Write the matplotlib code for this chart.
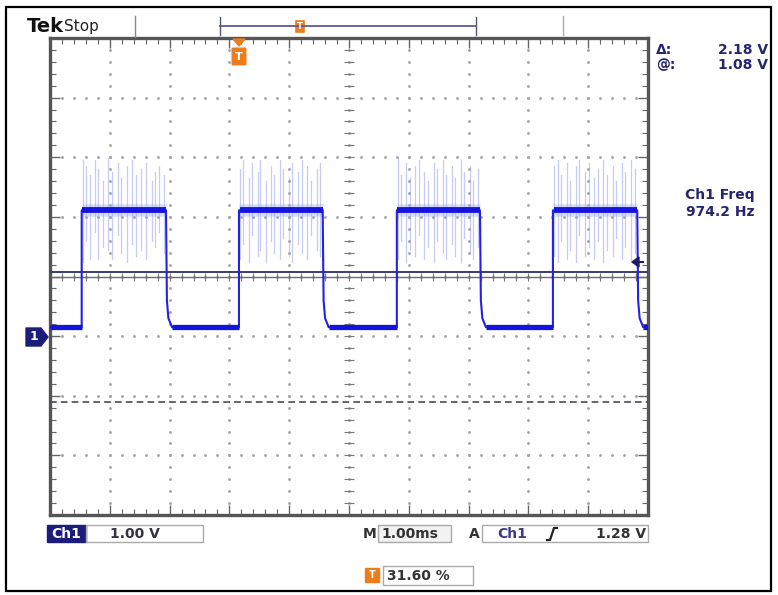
import numpy as np
import matplotlib
matplotlib.use("Agg")
import matplotlib.pyplot as plt
from matplotlib.patches import Rectangle, Polygon, FancyBboxPatch
from matplotlib.ticker import FixedLocator

# ---------------- data ----------------
t_left, t_right = -3.16, 6.84          # ms, screen span (trigger at 0 ms)
v_bottom, v_top = -3.0, 5.0            # V, 1.00 V/div, ground 3 div above bottom
rise_times = [-2.63, 0.00, 2.64, 5.25]
fall_times = [-1.22, 1.40, 4.03, 6.66]
v_high = 2.11
v_low = 0.15
fall_tail_dt = [0.0, 0.015, 0.04, 0.10]
fall_tail_v = [2.11, 0.60, 0.30, 0.15]
cursor_a = 1.08
cursor_b = -1.10
trigger_level = 1.28

spike_t = [-2.61, -2.56, -2.49, -2.41, -2.35, -2.27, -2.19, -2.12, -2.03, -1.97,
           -1.88, -1.79, -1.72, -1.63, -1.56, -1.46, -1.41, -1.33, -1.26,
           0.02, 0.07, 0.16, 0.21, 0.31, 0.36, 0.45, 0.53, 0.58, 0.68, 0.74,
           0.84, 0.89, 0.99, 1.05, 1.14, 1.20, 1.30, 1.36,
           2.66, 2.71, 2.80, 2.86, 2.95, 3.01, 3.10, 3.16, 3.26, 3.31, 3.41,
           3.46, 3.56, 3.62, 3.71, 3.77, 3.86, 3.92, 3.99,
           5.27, 5.34, 5.39, 5.49, 5.54, 5.64, 5.69, 5.79, 5.85, 5.94, 6.00,
           6.09, 6.15, 6.25, 6.30, 6.40, 6.45, 6.55, 6.62]
spike_top = [2.95, 2.85, 2.70, 2.95, 2.80, 2.60, 2.98, 2.75, 2.90, 2.65,
             2.85, 2.95, 2.70, 2.80, 2.90, 2.60, 2.75, 2.85, 2.70,
             2.80, 2.95, 2.65, 2.90, 2.75, 2.95, 2.60, 2.85, 2.70, 2.95, 2.80,
             2.65, 2.90, 2.75, 2.95, 2.85, 2.60, 2.80, 2.90,
             2.98, 2.70, 2.90, 2.65, 2.85, 2.95, 2.75, 2.60, 2.90, 2.80, 2.95,
             2.70, 2.85, 2.65, 2.95, 2.75, 2.85, 2.60, 2.80,
             2.85, 2.95, 2.70, 2.90, 2.60, 2.85, 2.95, 2.75, 2.90, 2.65, 2.80,
             2.95, 2.70, 2.85, 2.60, 2.90, 2.75, 2.95, 2.80]
spike_bot = [1.25, 1.60, 1.30, 1.75, 1.30, 1.50, 1.45, 1.30, 1.70, 1.40,
             1.25, 1.55, 1.35, 1.45, 1.30, 1.60, 1.50, 1.75, 1.40,
             1.30, 1.55, 1.25, 1.70, 1.35, 1.45, 1.25, 1.60, 1.40, 1.30, 1.65,
             1.35, 1.25, 1.55, 1.40, 1.30, 1.70, 1.45, 1.35,
             1.30, 1.60, 1.25, 1.45, 1.35, 1.70, 1.30, 1.50, 1.25, 1.60, 1.40,
             1.30, 1.55, 1.35, 1.25, 1.65, 1.40, 1.30, 1.50,
             1.35, 1.25, 1.60, 1.30, 1.45, 1.25, 1.70, 1.35, 1.50, 1.30, 1.60,
             1.25, 1.45, 1.35, 1.65, 1.30, 1.50, 1.25, 1.40]

# ---------------- build trace vertices from edge readings ----------------
tr_t, tr_v = [t_left], [v_low]
for r, f in zip(rise_times, fall_times):
    tr_t += [r, r, f]
    tr_v += [v_low, v_high, v_high]
    for dt, vv in zip(fall_tail_dt[1:], fall_tail_v[1:]):
        tr_t.append(f + dt)
        tr_v.append(vv)
tr_t.append(t_right + 0.2)
tr_v.append(v_low)

W, H = 778, 595
fig = plt.figure(figsize=(W / 100, H / 100), dpi=100)
fig.patch.set_facecolor("white")

ax = fig.add_axes([50 / W, 1 - 515 / H, 598 / W, 477 / H])
ax.set_xlim(t_left, t_right)
ax.set_ylim(v_bottom, v_top)
ax.set_facecolor("white")

grid_col = "#a8a8a8"
major_x = [t_left + k for k in range(11)]
major_y = list(range(-3, 6))
minor_x = [t_left + k * 0.2 for k in range(51)]
minor_y = [v_bottom + k * 0.2 for k in range(41)]

# dotted graticule
for x in major_x[1:-1]:
    ax.plot([x] * len(minor_y), minor_y, ls="none", marker="o", ms=1.1,
            color=grid_col, zorder=1)
for y in major_y[1:-1]:
    ax.plot(minor_x, [y] * len(minor_x), ls="none", marker="o", ms=1.1,
            color=grid_col, zorder=1)
# centre lines with ticks
xc = t_left + 5
yc = 1.0
ax.axhline(yc, color="#6a6a7a", lw=1.0, zorder=2)
ax.plot(minor_x, [yc] * len(minor_x), ls="none", marker="|", ms=6,
        mew=0.8, color="#777777", zorder=2)
ax.plot([xc] * len(minor_y), minor_y, ls="none", marker="_", ms=7,
        mew=0.8, color="#777777", zorder=2)

# cursors
ax.axhline(cursor_a, color="#3b3b70", lw=1.4, zorder=3)
ax.axhline(cursor_b, color="#4a4a5a", lw=1.2, ls=(0, (4, 2.5)), zorder=3)

# noise spikes
for t, top, bot in zip(spike_t, spike_top, spike_bot):
    ax.plot([t, t], [bot, top], color="#8f9be8", lw=0.9, alpha=0.5, zorder=4)
for r, f in zip(rise_times, fall_times):
    ax.plot([r, f], [v_high, v_high], color="#a9b2ef", lw=9, alpha=0.45,
            solid_capstyle="butt", zorder=4)

# trace
ax.plot(tr_t, tr_v, color="#2222e6", lw=1.5, zorder=5)
for r, f in zip(rise_times, fall_times):
    ax.plot([r + 0.01, f], [v_high, v_high], color="#1414dc", lw=4.2,
            solid_capstyle="butt", zorder=6)
low_starts = [t_left] + [f + fall_tail_dt[-1] for f in fall_times]
low_ends = rise_times + [t_right]
for a, b in zip(low_starts, low_ends):
    if b > a:
        ax.plot([a, b], [v_low, v_low], color="#1414dc", lw=3.8,
                solid_capstyle="butt", zorder=6)

# frame ticks
ax.xaxis.set_major_locator(FixedLocator(major_x))
ax.yaxis.set_major_locator(FixedLocator(major_y))
ax.xaxis.set_minor_locator(FixedLocator(minor_x))
ax.yaxis.set_minor_locator(FixedLocator(minor_y))
ax.tick_params(which="both", direction="in", top=True, right=True,
               labelbottom=False, labelleft=False, color="#666666")
ax.tick_params(which="major", length=7, width=1.0)
ax.tick_params(which="minor", length=4, width=0.8)
for s in ax.spines.values():
    s.set_color("#555555")
    s.set_linewidth(2.4)

# ---------------- overlay (pixel coordinates) ----------------
ov = fig.add_axes([0, 0, 1, 1], zorder=10)
ov.set_xlim(0, W)
ov.set_ylim(H, 0)
ov.axis("off")
ov.patch.set_alpha(0)

navy = "#26266e"
orange = "#ec7d1c"
fnt = "DejaVu Sans"

ov.add_patch(Rectangle((6, 7), 765, 584, fill=False, ec="black", lw=1.6))

# top bar
ov.text(27, 26, "Tek", fontsize=14, fontweight="bold", color="#111111",
        va="center", ha="left", family=fnt)
ov.text(64, 26, "Stop", fontsize=11, color="#222222", va="center", ha="left",
        family=fnt)
ov.plot([135, 135], [16, 37], color="#888888", lw=1)
ov.plot([563, 563], [16, 35], color="#aaaaaa", lw=1)
ov.plot([220, 476], [26, 26], color="#5a5aa0", lw=1.3)
ov.plot([220, 220], [17, 35], color="#555577", lw=1)
ov.plot([476, 476], [17, 35], color="#555577", lw=1)
ov.add_patch(FancyBboxPatch((296, 21), 8, 11, boxstyle="round,pad=0.5",
                            fc=orange, ec=orange, lw=0.5))
ov.text(300, 26.5, "T", fontsize=6, color="white", ha="center", va="center",
        fontweight="bold")
# trigger position marker
ov.add_patch(Polygon([[233, 39], [245, 39], [239, 46]], closed=True,
                     fc=orange, ec=orange))
ov.add_patch(FancyBboxPatch((233, 49), 12, 15, boxstyle="round,pad=0.8",
                            fc=orange, ec=orange))
ov.text(239, 56.5, "T", fontsize=8, color="white", ha="center", va="center",
        fontweight="bold")

# ground marker
ov.add_patch(Polygon([[26, 328], [41, 328], [48, 337], [41, 346], [26, 346]],
                     closed=True, fc="#1c1c7a", ec="#1c1c7a"))
ov.text(34, 337, "1", fontsize=9, color="white", ha="center", va="center",
        fontweight="bold")
# trigger level arrow
ov.add_patch(Polygon([[632, 262], [639, 257], [639, 267]], closed=True,
                     fc="#1c1c6a", ec="#1c1c6a"))
ov.plot([638, 643], [262, 262], color="#1c1c6a", lw=1.5)

# right readouts
ov.text(656, 50, "Δ:", fontsize=10, fontweight="bold", color=navy,
        ha="left", va="center", family=fnt)
ov.text(768, 50, "2.18 V", fontsize=10, fontweight="bold", color=navy,
        ha="right", va="center", family=fnt)
ov.text(656, 65, "@:", fontsize=10, fontweight="bold", color=navy,
        ha="left", va="center", family=fnt)
ov.text(768, 65, "1.08 V", fontsize=10, fontweight="bold", color=navy,
        ha="right", va="center", family=fnt)
ov.text(720, 195, "Ch1 Freq", fontsize=10, fontweight="bold", color=navy,
        ha="center", va="center", family=fnt)
ov.text(720, 212, "974.2 Hz", fontsize=10, fontweight="bold", color=navy,
        ha="center", va="center", family=fnt)

# bottom readouts
ov.add_patch(Rectangle((47, 525), 39, 17, fc="#1c1c7a", ec="#1c1c7a"))
ov.text(66.5, 533.5, "Ch1", fontsize=10, fontweight="bold", color="white",
        ha="center", va="center", family=fnt)
ov.add_patch(Rectangle((86, 525), 117, 17, fill=False, ec="#aaaaaa", lw=1))
ov.text(110, 533.5, "1.00 V", fontsize=10, fontweight="bold", color="#333344",
        ha="left", va="center", family=fnt)

ov.text(363, 534, "M", fontsize=10, fontweight="bold", color="#333333",
        ha="left", va="center", family=fnt)
ov.add_patch(Rectangle((378, 525), 73, 17, fc="#f2f2f2", ec="#aaaaaa", lw=1))
ov.text(381, 534, "1.00ms", fontsize=10, fontweight="bold", color="#333333",
        ha="left", va="center", family=fnt)
ov.text(469, 534, "A", fontsize=10, fontweight="bold", color="#333333",
        ha="left", va="center", family=fnt)
ov.add_patch(Rectangle((482, 525), 166, 17, fill=False, ec="#aaaaaa", lw=1))
ov.text(497, 534, "Ch1", fontsize=10, fontweight="bold", color="#3a3a88",
        ha="left", va="center", family=fnt)
ov.plot([547, 550, 554, 557], [540, 540, 528, 528], color="#222222", lw=1.6)
ov.text(646, 534, "1.28 V", fontsize=10, fontweight="bold", color="#333333",
        ha="right", va="center", family=fnt)

ov.add_patch(FancyBboxPatch((366, 569), 13, 13, boxstyle="round,pad=0.5",
                            fc=orange, ec=orange))
ov.text(372.5, 575.5, "T", fontsize=7, color="white", ha="center",
        va="center", fontweight="bold")
ov.add_patch(Rectangle((383, 566), 90, 19, fill=False, ec="#aaaaaa", lw=1))
ov.text(387, 576, "31.60 %", fontsize=10, fontweight="bold", color="#333333",
        ha="left", va="center", family=fnt)

fig.savefig("out.png", dpi=100, facecolor="white")
